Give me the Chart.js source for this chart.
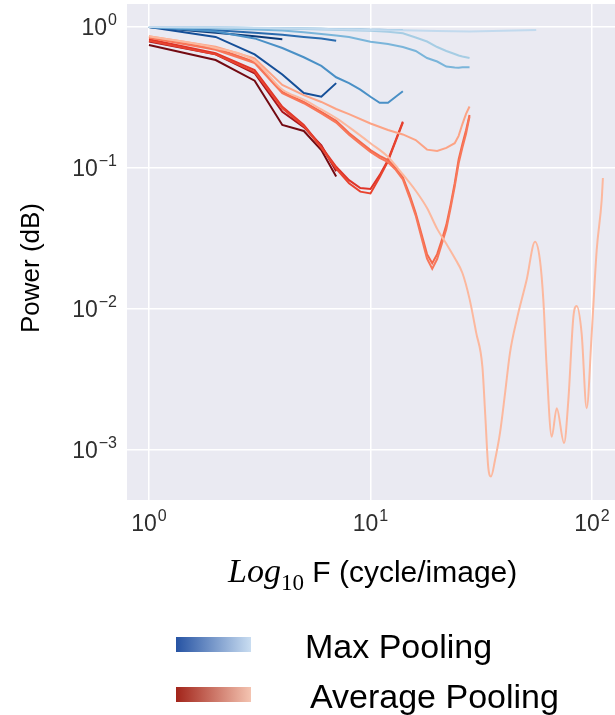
<!DOCTYPE html>
<html>
<head>
<meta charset="utf-8">
<script src="https://cdn.jsdelivr.net/npm/chart.js@4.4.0/dist/chart.umd.min.js"></script>
<style>
  html, body { margin: 0; padding: 0; background: #fff; }
  canvas { display: block; }
</style>
</head>
<body>
<canvas id="espectro" width="615" height="715"></canvas>
<script>
// frequências (cycle/image)
const freq4 = [1, 2, 3, 4];
const freq7 = [1, 2, 3, 4, 5, 6, 7];
const freq14 = [1, 2, 3, 4, 5, 6, 7, 8, 9, 10, 11, 12, 13, 14];
const freq28s = [1, 2, 3, 4, 5, 6, 7, 8, 10, 12, 14, 16, 18, 20, 22, 24, 25, 26, 28];
const freq28 = [1, 2, 3, 4, 5, 6, 7, 8, 9, 10, 11, 12, 13, 14, 15, 16, 17, 18, 19, 20, 21, 22, 23, 24, 25, 26, 27, 28];
const freq28h = [1, 2, 3, 4, 5, 6, 7, 8, 10, 12, 14, 16, 18, 20, 22, 24, 25, 26, 27, 28];
const freq56 = [1, 2, 5, 10, 14, 20, 28, 40, 56];
const freq112 = [1, 2, 3, 4, 5, 6, 7, 8, 10, 12, 14, 16, 18, 20, 22, 24, 26, 28, 30, 32, 33, 34, 35, 36.5, 38.4, 40.5, 42.6, 45.7, 50.7, 55.3, 58.2, 60.3, 62.4, 65.8, 69.3, 74.8, 78.2, 82.4, 85.3, 89.8, 94.6, 99.7, 105, 110.6, 112];

// Max Pooling
const maxP4 = [1.0, 0.91, 0.86, 0.82];
const maxP7a = [1.0, 0.85, 0.64, 0.46, 0.34, 0.32, 0.40];
const maxP7b = [1.0, 0.95, 0.91, 0.88, 0.85, 0.83, 0.80];
const maxP14a = [1.0, 0.93, 0.83, 0.71, 0.61, 0.53, 0.44, 0.40, 0.36, 0.32, 0.29, 0.29, 0.32, 0.35];
const maxP14b = [1.0, 0.99, 0.985, 0.98, 0.975, 0.97, 0.965, 0.962, 0.96, 0.958, 0.956, 0.954, 0.952, 0.952];
const maxP28a = [1.0, 0.976, 0.96, 0.945, 0.917, 0.892, 0.87, 0.849, 0.787, 0.758, 0.721, 0.676, 0.603, 0.569, 0.524, 0.516, 0.514, 0.518, 0.518];
const maxP28b = [1.0, 0.992, 0.984, 0.976, 0.968, 0.962, 0.955, 0.95, 0.941, 0.925, 0.902, 0.842, 0.789, 0.721, 0.676, 0.644, 0.628, 0.618, 0.603];
const maxP56 = [1.0, 0.995, 0.976, 0.952, 0.947, 0.935, 0.93, 0.94, 0.952];

// Average Pooling
const avgP7a = [0.745, 0.583, 0.416, 0.202, 0.183, 0.134, 0.087];
const avgP7b = [0.79, 0.64, 0.47, 0.25, 0.195, 0.145, 0.095];
const avgP14a = [0.818, 0.651, 0.495, 0.272, 0.202, 0.142, 0.102, 0.082, 0.072, 0.071, 0.089, 0.114, 0.158, 0.213];
const avgP14b = [0.80, 0.64, 0.48, 0.265, 0.198, 0.139, 0.099, 0.078, 0.068, 0.066, 0.086, 0.112, 0.155, 0.21];
const avgP28a = [0.853, 0.706, 0.567, 0.346, 0.294, 0.25, 0.216, 0.177, 0.153, 0.134, 0.122, 0.114, 0.10, 0.086, 0.065, 0.048, 0.034, 0.0245, 0.0211, 0.0245, 0.031, 0.0395, 0.055, 0.078, 0.115, 0.148, 0.185, 0.238];
const avgP28b = [0.84, 0.69, 0.555, 0.34, 0.288, 0.244, 0.21, 0.172, 0.148, 0.13, 0.118, 0.11, 0.097, 0.083, 0.062, 0.046, 0.032, 0.0228, 0.0193, 0.0226, 0.029, 0.037, 0.052, 0.074, 0.108, 0.14, 0.175, 0.232];
const avgP28h = [0.86, 0.725, 0.60, 0.388, 0.329, 0.294, 0.262, 0.241, 0.207, 0.186, 0.173, 0.158, 0.135, 0.132, 0.139, 0.15, 0.169, 0.205, 0.242, 0.273];
const avgP112 = [0.86, 0.71, 0.575, 0.36, 0.305, 0.26, 0.226, 0.195, 0.15, 0.12, 0.09, 0.069, 0.052, 0.037, 0.029, 0.023, 0.018, 0.0118, 0.0068, 0.0039, 0.00172, 0.00076, 0.00065, 0.00085, 0.00131, 0.00252, 0.00485, 0.00836, 0.0161, 0.030, 0.0223, 0.0116, 0.0039, 0.00124, 0.00198, 0.00112, 0.00226, 0.0088, 0.0105, 0.0067, 0.00198, 0.0067, 0.0262, 0.0593, 0.085];

const xTicks = [1, 10, 100];
const yTicks = [1, 0.1, 0.01, 0.001];

function pontos(freqs, vals) {
    return freqs.map((f, i) => ({ x: f, y: vals[i] }));
}

function serie(freqs, vals, cor, suave) {
    return {
        data: pontos(freqs, vals),
        borderColor: cor,
        borderWidth: 2,
        pointRadius: 0,
        fill: false,
        cubicInterpolationMode: suave ? 'monotone' : 'default',
        tension: 0
    };
}

const datasets = [
    serie(freq112, avgP112, '#fcb89e', true),
    serie(freq28h, avgP28h, '#fca385', false),
    serie(freq28, avgP28b, '#f8775a', false),
    serie(freq28, avgP28a, '#f4694c', false),
    serie(freq14, avgP14b, '#e8432f', false),
    serie(freq14, avgP14a, '#df3428', false),
    serie(freq7, avgP7b, '#a8151c', false),
    serie(freq7, avgP7a, '#730a12', false),
    serie(freq56, maxP56, '#c2daee', false),
    serie(freq28s, maxP28b, '#a6cde4', false),
    serie(freq28s, maxP28a, '#7ab5da', false),
    serie(freq14, maxP14b, '#6aaed6', false),
    serie(freq14, maxP14a, '#4a90c6', false),
    serie(freq7, maxP7b, '#2a6bae', false),
    serie(freq7, maxP7a, '#154f98', false),
    serie(freq4, maxP4, '#0b3a78', false)
];

const FONTE = '"Liberation Sans", Arial, sans-serif';

function potencia(ctx, exp, x, y, alinhar) {
    const base = '10';
    const sup = String(exp).replace('-', '\u2212');
    ctx.font = '23px ' + FONTE;
    const wb = ctx.measureText(base).width;
    ctx.font = '16px ' + FONTE;
    const ws = ctx.measureText(sup).width;
    const x0 = alinhar === 'right' ? x - wb - ws - 1 : x - (wb + ws + 1) / 2;
    ctx.textAlign = 'left';
    ctx.textBaseline = 'alphabetic';
    ctx.font = '23px ' + FONTE;
    ctx.fillText(base, x0, y);
    ctx.font = '16px ' + FONTE;
    ctx.fillText(sup, x0 + wb + 1, y - 10);
}

const fundo = {
    id: 'fundo',
    beforeDraw(chart) {
        const a = chart.chartArea;
        const ctx = chart.ctx;
        ctx.save();
        ctx.fillStyle = '#eaeaf2';
        ctx.fillRect(a.left, a.top, a.right - a.left, a.bottom - a.top);
        ctx.restore();
    }
};

const textos = {
    id: 'textos',
    afterDraw(chart) {
        const ctx = chart.ctx;
        const sx = chart.scales.x;
        const sy = chart.scales.y;
        ctx.save();
        ctx.fillStyle = '#2e2e2e';
        xTicks.forEach(v => potencia(ctx, Math.round(Math.log10(v)), sx.getPixelForValue(v), 531, 'center'));
        yTicks.forEach(v => potencia(ctx, Math.round(Math.log10(v)), 117, sy.getPixelForValue(v) + 8, 'right'));

        // título do eixo y
        ctx.fillStyle = '#000';
        ctx.save();
        ctx.translate(39, 268);
        ctx.rotate(-Math.PI / 2);
        ctx.textAlign = 'center';
        ctx.textBaseline = 'alphabetic';
        ctx.font = '26px ' + FONTE;
        ctx.fillText('Power (dB)', 0, 0);
        ctx.restore();

        // título do eixo x: Log10 F (cycle/image)
        let x = 228;
        const base = 582;
        ctx.textAlign = 'left';
        ctx.font = 'italic 34px "Liberation Serif", "DejaVu Serif", serif';
        ctx.fillText('Log', x, base);
        x += ctx.measureText('Log').width;
        ctx.font = '23px "Liberation Serif", "DejaVu Serif", serif';
        ctx.fillText('10', x, base + 8);
        x += ctx.measureText('10').width;
        ctx.font = '30px ' + FONTE;
        ctx.fillText(' F (cycle/image)', x, base);

        // legenda com gradiente
        const itens = [
            { rotulo: 'Max Pooling', de: '#2653a3', ate: '#c9ddf1', y: 637, tx: 305 },
            { rotulo: 'Average Pooling', de: '#a2241a', ate: '#f4c4b1', y: 687, tx: 310 }
        ];
        itens.forEach(it => {
            const g = ctx.createLinearGradient(176, 0, 251, 0);
            g.addColorStop(0, it.de);
            g.addColorStop(1, it.ate);
            ctx.fillStyle = g;
            ctx.fillRect(176, it.y, 75, 15);
            ctx.fillStyle = '#000';
            ctx.font = '34px ' + FONTE;
            ctx.fillText(it.rotulo, it.tx, it.y + 21);
        });
        ctx.restore();
    }
};

new Chart(document.getElementById('espectro'), {
    type: 'line',
    data: { datasets: datasets },
    options: {
        responsive: false,
        devicePixelRatio: 1,
        animation: false,
        events: [],
        layout: { padding: { top: 4, left: 0, right: 0, bottom: 175 } },
        plugins: { legend: { display: false }, tooltip: { enabled: false } },
        scales: {
            x: {
                type: 'logarithmic',
                min: 0.796,
                max: 127,
                ticks: { display: false },
                grid: { color: '#ffffff', lineWidth: 1.5, drawTicks: false },
                border: { display: false },
                afterBuildTicks: s => { s.ticks = xTicks.map(v => ({ value: v })); },
                afterFit: s => { s.height = 40; }
            },
            y: {
                type: 'logarithmic',
                min: 4.42e-4,
                max: 1.456,
                ticks: { display: false },
                grid: { color: '#ffffff', lineWidth: 1.5, drawTicks: false },
                border: { display: false },
                afterBuildTicks: s => { s.ticks = yTicks.map(v => ({ value: v })); },
                afterFit: s => { s.height = s.height; s.width = 127; }
            }
        }
    },
    plugins: [fundo, textos]
});
</script>
</body>
</html>
